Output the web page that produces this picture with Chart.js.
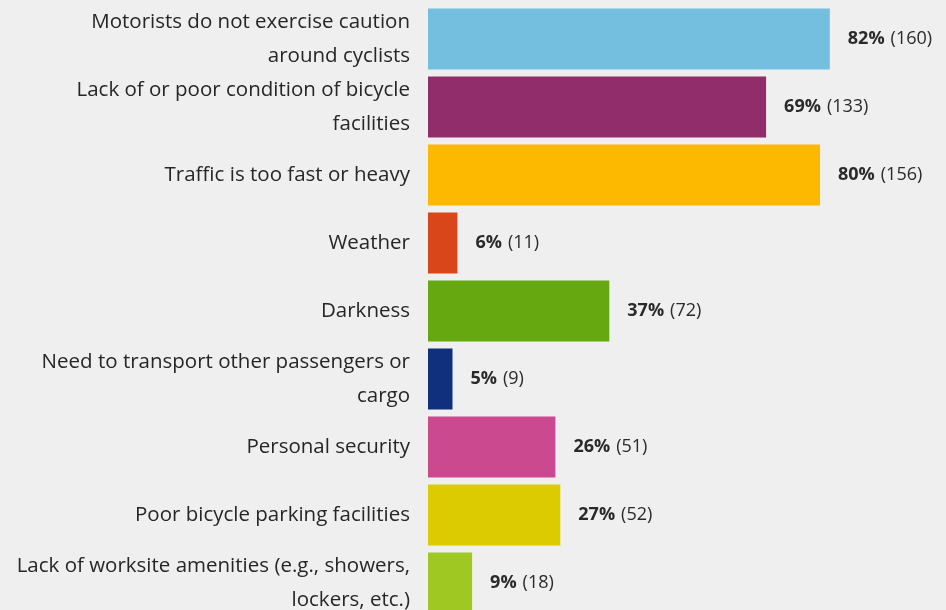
<!DOCTYPE html>
<html>
<head>
<meta charset="utf-8">
<script src="https://cdn.jsdelivr.net/npm/chart.js@4"></script>
<style>
  html, body { margin: 0; padding: 0; background: #efefef; overflow: hidden; }
  #wrap { width: 946px; height: 622px; }
</style>
</head>
<body>
<div id="wrap"><canvas id="graph1"></canvas></div>
<script>
var categories = [
    ['Motorists do not exercise caution', 'around cyclists'],
    ['Lack of or poor condition of bicycle', 'facilities'],
    'Traffic is too fast or heavy',
    'Weather',
    'Darkness',
    ['Need to transport other passengers or', 'cargo'],
    'Personal security',
    'Poor bicycle parking facilities',
    ['Lack of worksite amenities (e.g., showers,', 'lockers, etc.)']
];
var percents = [82, 69, 80, 6, 37, 5, 26, 27, 9];
var counts = [160, 133, 156, 11, 72, 9, 51, 52, 18];
var barColors = ['#74bfe0', '#922d6c', '#fdb800', '#d8461a', '#66a80f', '#102f7c', '#cb4a8f', '#dccb00', '#a0c823'];

var fontName = '"Open Sans", "Noto Sans", sans-serif';

var valueLabels = {
    id: 'valueLabels',
    afterDatasetsDraw: function(chart) {
        var ctx = chart.ctx;
        var meta = chart.getDatasetMeta(0);
        ctx.save();
        ctx.textBaseline = 'middle';
        ctx.fillStyle = '#2a2a2a';
        meta.data.forEach(function(bar, i) {
            var x = bar.x + 18;
            var pct = percents[i] + '%';
            ctx.font = 'bold 18px ' + fontName;
            ctx.fillText(pct, x, bar.y);
            x += ctx.measureText(pct).width + 6;
            ctx.font = '18px ' + fontName;
            ctx.fillText('(' + counts[i] + ')', x, bar.y);
        });
        ctx.restore();
    }
};

window.onload = function() {
    var ctx = document.getElementById('graph1').getContext('2d');
    window.barrierChart = new Chart(ctx, {
        type: 'bar',
        data: {
            labels: categories,
            datasets: [{
                data: percents,
                backgroundColor: barColors,
                borderWidth: 0,
                categoryPercentage: 1,
                barPercentage: 0.9
            }]
        },
        plugins: [valueLabels],
        options: {
            indexAxis: 'y',
            responsive: true,
            maintainAspectRatio: false,
            animation: false,
            layout: { padding: { top: 5, bottom: 5, right: 28, left: 0 } },
            plugins: {
                legend: { display: false },
                tooltip: { enabled: false }
            },
            scales: {
                x: {
                    display: false,
                    min: 0,
                    max: 100
                },
                y: {
                    grid: { display: false },
                    border: { display: false },
                    afterFit: function(scale) {
                        scale.width = 428;
                        scale.paddingTop = 0;
                        scale.paddingBottom = 0;
                    },
                    ticks: {
                        autoSkip: false,
                        padding: 10,
                        color: '#262626',
                        font: { family: fontName, size: 20.5, lineHeight: 1.68 }
                    }
                }
            }
        }
    });
};
</script>
</body>
</html>
